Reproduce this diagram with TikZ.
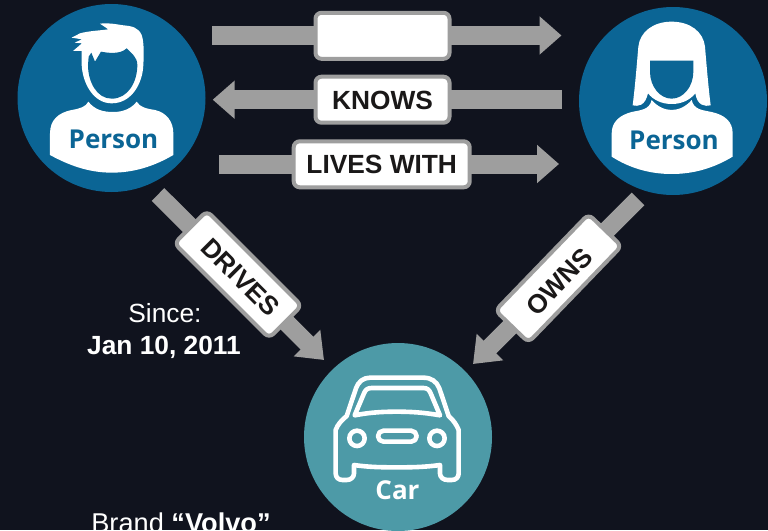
\documentclass[tikz,border=0pt]{standalone}
\usepackage{fontspec}
\setmainfont{Liberation Sans}
\newfontfamily\iconfont{Open Sans}
\usetikzlibrary{arrows.meta}
\definecolor{bgdark}{HTML}{10131E}
\definecolor{bluec}{HTML}{0B6595}
\definecolor{tealc}{HTML}{4D9AA7}
\definecolor{grayc}{HTML}{9E9E9E}
\definecolor{inkc}{HTML}{1A1818}
\tikzset{
  fat/.style={draw=grayc,line width=19pt,-{Triangle[length=22pt,width=37pt]}},
  fatd/.style={draw=grayc,line width=18pt,-{Triangle[length=24pt,width=36pt]}},
  lab/.style={draw=grayc,line width=4pt,fill=white,rounded corners=6pt,text=inkc,font=\fontsize{26.3}{26}\selectfont\bfseries,inner sep=0pt,minimum height=46pt,text height=18.8pt,text depth=0pt,align=center},
  disc/.style={circle,minimum size=188pt,inner sep=0pt,fill=#1},
  ico/.style={font=\iconfont\fontsize{26}{26}\selectfont\bfseries,inner sep=0pt,anchor=base},
  captxt/.style={text=white,font=\fontsize{26.3}{26}\selectfont,inner sep=0pt,anchor=base},
  icoz/.style={x=0.33333pt,y=-0.33333pt},
}
\begin{document}
\begin{tikzpicture}[x=1pt,y=-1pt]
\useasboundingbox (0,0) rectangle (768,530);
\fill[bgdark] (0,0) rectangle (768,530);
% discs
\node[disc=bluec] (manDisc) at (111.5,98) {};
\node[disc=bluec] (womanDisc) at (673,101) {};
\node[disc=tealc] (carDisc) at (398,437) {};
% connector ends
\coordinate (a1s) at (212,35.5);   \coordinate (a1e) at (561.5,35.5);
\coordinate (a2s) at (561.7,99.7); \coordinate (a2e) at (212.7,99.7);
\coordinate (a3s) at (219.3,164);  \coordinate (a3e) at (559,164);
\coordinate (a4s) at (158,194.5);  \coordinate (a4e) at (324,360);
\coordinate (a5s) at (638,199);    \coordinate (a5e) at (473,364);
\draw[fat] (a1s) -- (a1e);
\draw[fat] (a2s) -- (a2e);
\draw[fat] (a3s) -- (a3e);
\draw[fatd] (a4s) -- (a4e);
\draw[fatd] (a5s) -- (a5e);
% labels
\node[lab,minimum width=134pt] (lab1) at (382.5,35.8) {};
\node[lab,minimum width=134pt] (lab2) at (382.5,99.7) {KNOWS};
\node[lab,minimum width=176pt] (lab3) at (381.7,164.3) {LIVES WITH};
\node[lab,minimum width=134pt,rotate=-45] (lab4) at (238,274.5) {\hspace*{7pt}DRIVES};
\node[lab,minimum width=134pt,rotate=46] (lab5) at (558.5,278.3) {\raisebox{-2.7pt}{OWNS}\hspace*{4pt}};
% man icon
\begin{scope}[icoz]
\fill[white] (150,465) -- (150,400) .. controls (150,360) and (175,338) .. (215,330) .. controls (240,326) and (258,320) .. (265,305) .. controls (285,330) and (310,336) .. (340,336) .. controls (370,336) and (395,325) .. (410,305) .. controls (420,322) and (440,326) .. (465,330) .. controls (500,338) and (520,365) .. (520,400) -- (520,465) .. controls (460,500) and (400,518) .. (335,518) .. controls (265,518) and (205,495) .. (150,465) -- cycle;
\fill[white] (300,71) .. controls (325,68) and (345,72) .. (370,76) .. controls (395,78) and (415,82) .. (425,105) .. controls (432,125) and (432,160) .. (430,195) .. controls (428,250) and (395,310) .. (335,310) .. controls (280,310) and (248,250) .. (245,195) -- (245,153) -- (219,153) -- (246,130) -- (224,128) -- (246,118) -- (215,113) -- (240,100) .. controls (265,93) and (295,92) .. (325,88) -- cycle;
\fill[bluec] (264,195) -- (266,170) -- (274,158) -- (285,185) -- (303,155) .. controls (320,158) and (360,165) .. (380,145) .. controls (395,160) and (412,172) .. (412,195) .. controls (412,245) and (385,296) .. (335,296) .. controls (290,296) and (264,245) .. (264,195) -- cycle;
\end{scope}
\node[ico,text=bluec] (manText) at (113.5,148.3) {Person};
% woman icon
\begin{scope}[icoz,shift={(570pt,0pt)}]
\fill[white] (125,470) -- (125,400) .. controls (125,365) and (150,345) .. (185,336) .. controls (212,330) and (238,330) .. (245,300) .. controls (262,320) and (285,330) .. (305,330) .. controls (325,330) and (348,320) .. (365,300) .. controls (372,330) and (398,330) .. (425,336) .. controls (465,345) and (488,365) .. (488,400) -- (488,470) .. controls (430,505) and (370,522) .. (305,522) .. controls (240,522) and (180,505) .. (125,470) -- cycle;
\fill[white] (305,65) .. controls (250,65) and (210,95) .. (205,140) .. controls (200,200) and (195,260) .. (188,316) .. controls (205,320) and (225,318) .. (234,280) .. controls (250,300) and (275,312) .. (305,312) .. controls (335,312) and (360,300) .. (376,280) .. controls (382,318) and (405,320) .. (422,316) .. controls (415,260) and (410,200) .. (405,140) .. controls (400,95) and (360,65) .. (305,65) -- cycle;
\fill[bluec] (240,182) -- (370,182) -- (370,215) .. controls (370,260) and (340,296) .. (305,296) .. controls (270,296) and (240,260) .. (240,215) -- cycle;
\end{scope}
\node[ico,text=bluec] (womanText) at (674,149) {Person};
% car icon
\begin{scope}[icoz,shift={(290pt,-360pt)},line width=4.6pt,line join=round]
\draw[white] (137,210) .. controls (142,195) and (155,180) .. (170,168) -- (198,85) .. controls (205,65) and (220,53) .. (240,53) -- (400,53) .. controls (425,53) and (440,65) .. (448,85) -- (476,168) .. controls (490,180) and (500,195) .. (506,210) -- (506,340) .. controls (506,352) and (498,360) .. (485,360) -- (473,360) .. controls (460,360) and (450,352) .. (450,340) -- (450,315) .. controls (400,322) and (360,322) .. (320,322) .. controls (280,322) and (240,322) .. (192,315) -- (192,340) .. controls (192,352) and (182,360) .. (170,360) -- (158,360) .. controls (145,360) and (137,352) .. (137,340) -- cycle;
\draw[white] (194,166) -- (222,100) .. controls (226,90) and (232,84) .. (245,84) -- (400,84) .. controls (412,84) and (418,90) .. (422,100) -- (450,166) .. controls (400,157) and (360,155) .. (320,155) .. controls (280,155) and (240,157) .. (194,166) -- cycle;
\draw[white] (201,235) circle[radius=23];
\draw[white] (441,235) circle[radius=23];
\draw[white,rounded corners=5.5pt] (264,212) rectangle (380,245);
\end{scope}
\node[ico,text=white] (carText) at (397.5,499) {Car};
% captions
\node[captxt] (since) at (165,322) {Since:};
\node[captxt,font=\fontsize{26.3}{26}\selectfont\bfseries] (jan) at (164,354) {Jan 10, 2011};
\node[captxt,font=\fontsize{27.2}{26}\selectfont] (brand) at (181,532.5) {Brand \textbf{“Volvo”}};
\end{tikzpicture}
\end{document}
